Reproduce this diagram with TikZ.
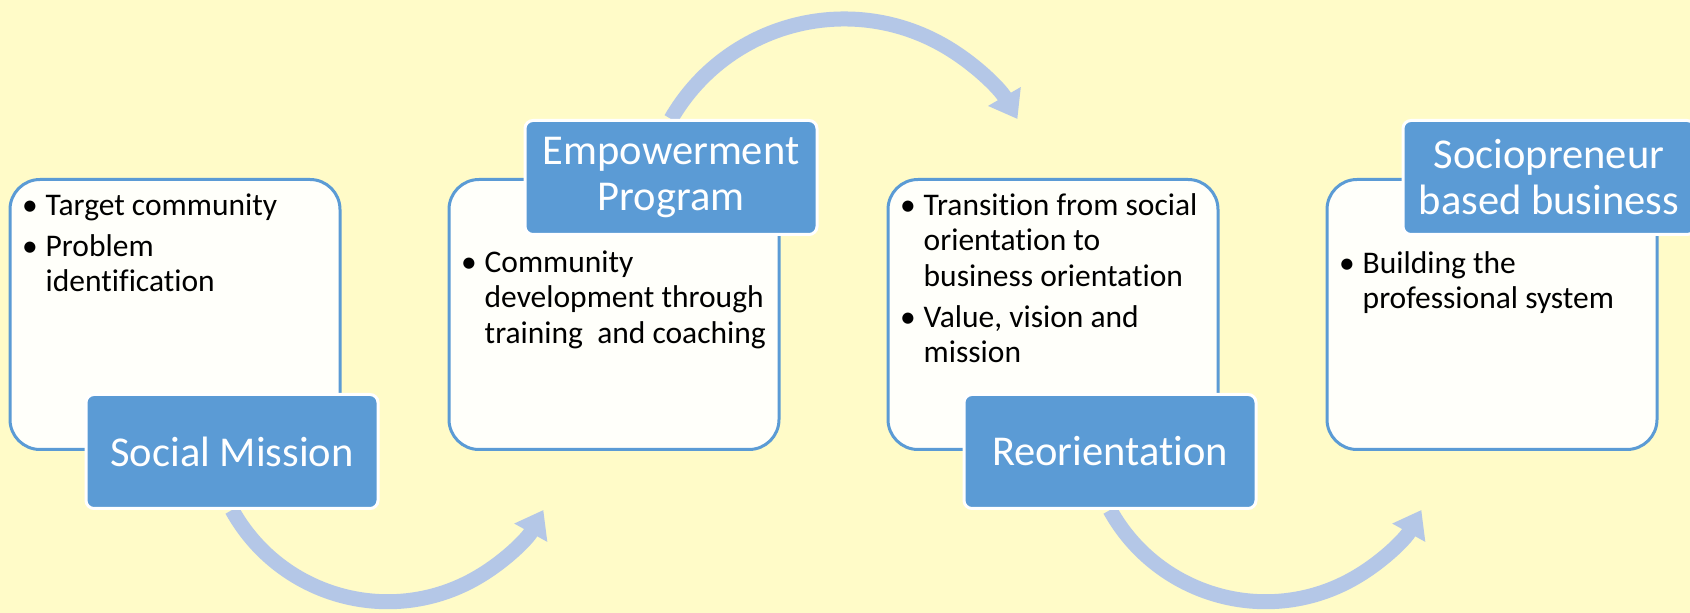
\documentclass[tikz,border=0pt]{standalone}
\usepackage{fontspec}
\setmainfont{Carlito}[Ligatures=NoCommon]
\usetikzlibrary{positioning,arrows.meta,backgrounds}
\definecolor{bgyellow}{RGB}{255,251,200}
\definecolor{boxblue}{RGB}{91,155,213}
\definecolor{arcblue}{RGB}{180,199,231}
\definecolor{boxwhite}{RGB}{255,255,250}
\newcommand{\blist}[1]{\begin{tabular}[t]{@{}p{23.5pt}@{}l@{}}#1\end{tabular}}
\newcommand{\bl}{\textbullet}

\begin{document}
\begin{tikzpicture}[
	x=1pt, y=1pt,
	textbox/.style={
		draw=boxblue,
		fill=boxwhite,
		line width=3pt,
		outer sep=0pt,
		rounded corners=30pt,
		minimum width=330pt,
		minimum height=270pt,
	},
	titlebox/.style={
		draw=white,
		fill=boxblue,
		line width=3pt,
		rounded corners=8pt,
		minimum width=292pt,
		minimum height=114pt,
		text=white,
		align=center,
		font=\fontsize{42.5}{46}\selectfont,
	},
	itemtext/.style={
		anchor=north west,
		inner sep=0pt,
		font=\fontsize{31.5}{35.5}\selectfont,
	},
	flow/.style={
		draw=arcblue,
		line width=15pt,
		-{Triangle[length=26pt,width=36pt]},
	},
]
\useasboundingbox (0,0) rectangle (1690,613);

% white boxes
\node [textbox] (mission) at (175,298.5) {};
\node [textbox, right=109pt of mission] (empower) {};
\node [textbox, right=109pt of empower] (reorient) {};
\node [textbox, right=109pt of reorient] (business) {};

% bullet texts
\node [itemtext] (missionlist) at ([xshift=12pt, yshift=-10.6pt]mission.north west)
	{\blist{\bl & Target community\\[5.5pt] \bl & Problem\\ & identification}};
\node [itemtext] (empowerlist) at ([xshift=12pt, yshift=-67.6pt]empower.north west)
	{\blist{\bl & Community\\ & development through\\ & training\ \ and coaching}};
\node [itemtext] (reorientlist) at ([xshift=12pt, yshift=-10.6pt]reorient.north west)
	{\blist{\bl & Transition from social\\ & orientation to\\ & business orientation\\[5.5pt] \bl & Value, vision and\\ & mission}};
\node [itemtext] (businesslist) at ([xshift=12pt, yshift=-68.6pt]business.north west)
	{\blist{\bl & Building the\\ & professional system}};

% titles
\node [titlebox] (missiontitle) at ([xshift=222pt, yshift=-2pt]mission.south west) {Social Mission};
\node [titlebox] (empowertitle) at ([xshift=222pt, yshift=2pt]empower.north west) {Empowerment\\Program};
\node [titlebox] (reorienttitle) at ([xshift=222pt, yshift=-2pt]reorient.south west) {Reorientation};
\node [titlebox] (businesstitle) at ([xshift=222pt, yshift=2pt]business.north west) {Sociopreneur\\based business};

\begin{scope}[on background layer]
\fill [bgyellow] (0,0) rectangle (1690,613);
\draw [flow] (missiontitle.south) arc [start angle=209, end angle=331, radius=178pt];
\draw [flow] (empowertitle.north) arc [start angle=150, end angle=30, radius=200pt];
\draw [flow] (reorienttitle.south) arc [start angle=209, end angle=331, radius=178pt];
\end{scope}
\end{tikzpicture}
\end{document}
